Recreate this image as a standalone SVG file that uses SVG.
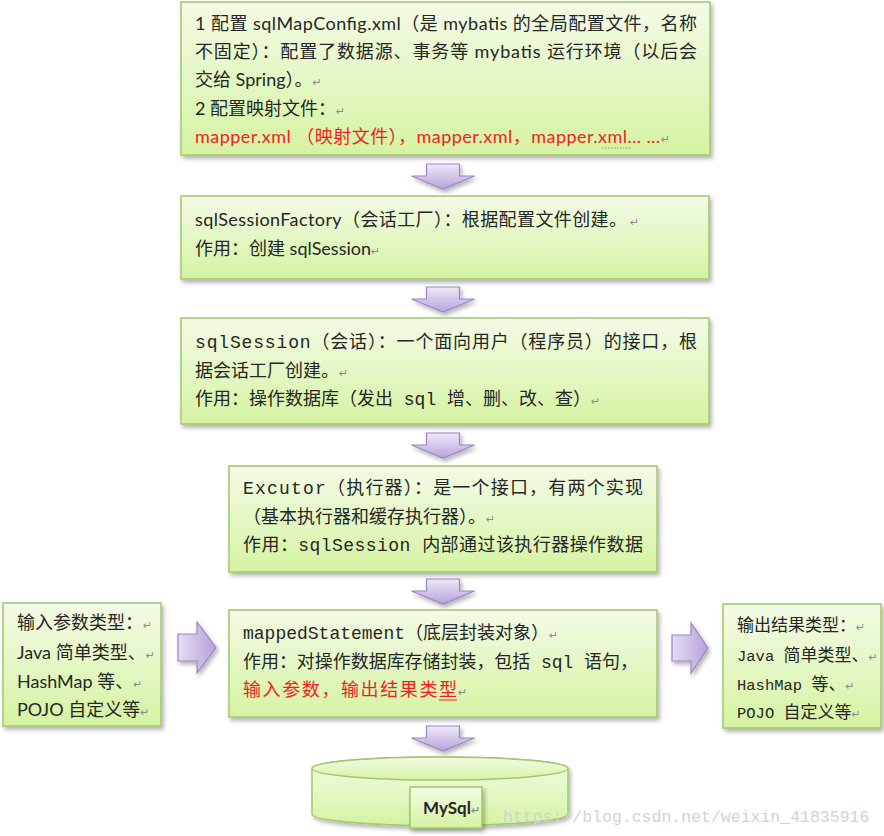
<svg xmlns="http://www.w3.org/2000/svg" width="884" height="836" viewBox="0 0 884 836">
<defs>
  <linearGradient id="gBox" x1="0" y1="0" x2="0" y2="1">
    <stop offset="0" stop-color="#f3fbe6"/>
    <stop offset="1" stop-color="#d5f3a2"/>
  </linearGradient>
  <linearGradient id="gArrowD" x1="0" y1="0" x2="0" y2="1">
    <stop offset="0" stop-color="#efe9f8"/>
    <stop offset="1" stop-color="#b7a3dc"/>
  </linearGradient>
  <linearGradient id="gArrowR" x1="0" y1="0" x2="1" y2="0">
    <stop offset="0" stop-color="#e6ddf4"/>
    <stop offset="1" stop-color="#b5a1da"/>
  </linearGradient>
  <filter id="sh" x="-10%" y="-10%" width="120%" height="130%">
    <feDropShadow dx="2" dy="3" stdDeviation="2" flood-color="#000" flood-opacity="0.3"/>
  </filter>
  <path id="arrowDown" d="M426.5,0 h33 v12 h15 L443,25 L411.5,12 h15 Z"/>
</defs>
<style>
  .box { fill: url(#gBox); stroke: #a3c76b; stroke-width: 1.5; filter: url(#sh); }
  .arr { stroke: #9a86c6; stroke-width: 1.2; filter: url(#sh); }
  .ad { fill: url(#gArrowD); }
  .ar { fill: url(#gArrowR); }
  .t { font-size: 18px; fill: #262626; }
  .t17 { font-size: 17px; fill: #262626; }
  .lat { font-size: 15.5px; }
  .sans { font-family: "Lato", "Noto Sans CJK SC", sans-serif; }
  .mono { font-family: "Liberation Mono", "Noto Sans CJK SC", monospace; }
  .red { fill: #f01e1e; }
  .rm { font-size: 11px; fill: #8c8c8c; font-family: "DejaVu Sans", sans-serif; }
  .wm { font-family: "Liberation Mono", monospace; font-size: 16.5px; fill: #d2d2d2; }
</style>
<rect width="884" height="836" fill="#ffffff"/>

<g id="connectors">
  <use href="#arrowDown" class="arr ad" y="164"/>
  <use href="#arrowDown" class="arr ad" y="287"/>
  <use href="#arrowDown" class="arr ad" y="433"/>
  <use href="#arrowDown" class="arr ad" y="579"/>
  <use href="#arrowDown" class="arr ad" y="726"/>
  <path class="arr ar" d="M178,634 H197 V622 L216,647.5 L197,673 V661 H178 Z"/>
  <path class="arr ar" d="M672,635 H691 V623 L708,648 L691,673 V661 H672 Z"/>
</g>

<g id="config">
  <rect class="box" x="181" y="2" width="529" height="153"/>
  <text class="t sans" x="195" y="30" textLength="502" lengthAdjust="spacing">1 配置 sqlMapConfig.xml（是 mybatis 的全局配置文件，名称</text>
  <text class="t sans" x="195" y="58" textLength="502" lengthAdjust="spacing">不固定）：配置了数据源、事务等 mybatis 运行环境（以后会</text>
  <text class="t sans" x="195" y="86">交给 Spring）。<tspan class="rm">↵</tspan></text>
  <text class="t sans" x="195" y="115">2 配置映射文件：<tspan class="rm">↵</tspan></text>
  <text class="t sans red" x="195" y="143" textLength="465" lengthAdjust="spacing">mapper.xml （映射文件），mapper.xml，mapper.xml… …</text>
  <text class="rm" x="661" y="143">↵</text>
  <line x1="602" y1="148" x2="631" y2="148" stroke="#5cb85c" stroke-width="1" stroke-dasharray="1.5,1.5"/>
</g>

<g id="sqlSessionFactory">
  <rect class="box" x="181" y="196" width="528" height="83"/>
  <text class="t sans" x="195" y="226" textLength="432" lengthAdjust="spacing">sqlSessionFactory（会话工厂）：根据配置文件创建。</text>
  <text class="rm" x="630" y="226">↵</text>
  <text class="t sans" x="195" y="255">作用：创建 sqlSession<tspan class="rm">↵</tspan></text>
</g>

<g id="sqlSession">
  <rect class="box" x="181" y="318" width="528" height="106"/>
  <text class="t mono" x="195" y="348" textLength="502" lengthAdjust="spacing">sqlSession（会话）：一个面向用户（程序员）的接口，根</text>
  <text class="t mono" x="195" y="377">据会话工厂创建。<tspan class="rm">↵</tspan></text>
  <text class="t mono" x="195" y="405">作用：操作数据库（发出 sql 增、删、改、查）<tspan class="rm">↵</tspan></text>
</g>

<g id="executor">
  <rect class="box" x="229" y="466" width="428" height="106"/>
  <text class="t mono" x="243" y="494" textLength="400" lengthAdjust="spacing">Excutor（执行器）：是一个接口，有两个实现</text>
  <text class="t mono" x="243" y="523">（基本执行器和缓存执行器）。<tspan class="rm">↵</tspan></text>
  <text class="t mono" x="243" y="551" textLength="400" lengthAdjust="spacing">作用：sqlSession 内部通过该执行器操作数据</text>
</g>

<g id="mappedStatement">
  <rect class="box" x="229" y="610" width="428" height="107"/>
  <text class="t mono" x="243" y="639">mappedStatement（底层封装对象）<tspan class="rm">↵</tspan></text>
  <text class="t mono" x="243" y="668" textLength="395" lengthAdjust="spacing">作用：对操作数据库存储封装，包括 sql 语句，</text>
  <text class="t mono red" x="243" y="696" textLength="214" lengthAdjust="spacing">输入参数，输出结果类型</text>
  <text class="rm" x="458" y="696">↵</text>
  <line x1="439" y1="700" x2="457" y2="700" stroke="#f01e1e" stroke-width="1"/>
</g>

<g id="inputTypes">
  <rect class="box" x="3" y="603" width="158" height="123"/>
  <text class="t sans" x="17" y="629">输入参数类型：<tspan class="rm">↵</tspan></text>
  <text class="t sans" x="17" y="659">Java 简单类型、<tspan class="rm">↵</tspan></text>
  <text class="t sans" x="17" y="688">HashMap 等、<tspan class="rm">↵</tspan></text>
  <text class="t sans" x="17" y="716">POJO 自定义等<tspan class="rm">↵</tspan></text>
</g>

<g id="outputTypes">
  <rect class="box" x="723" y="604" width="158" height="124"/>
  <text class="t17 mono" x="737" y="631">输出结果类型：<tspan class="rm">↵</tspan></text>
  <text class="t17 mono" x="737" y="661"><tspan class="lat">Java </tspan>简单类型、<tspan class="rm">↵</tspan></text>
  <text class="t17 mono" x="737" y="690"><tspan class="lat">HashMap </tspan>等、<tspan class="rm">↵</tspan></text>
  <text class="t17 mono" x="737" y="718"><tspan class="lat">POJO </tspan>自定义等<tspan class="rm">↵</tspan></text>
</g>

<g id="mysql">
  <path class="box" d="M312,768.5 L312,814 A128,11.5 0 0 0 568,814 L568,768.5 A128,11.5 0 0 0 312,768.5 Z"/>
  <ellipse cx="440" cy="768.5" rx="128" ry="11.5" fill="url(#gBox)" stroke="#a3c76b" stroke-width="1.5"/>
  <rect class="box" x="410" y="787" width="72" height="41"/>
  <text class="sans" x="423" y="814" font-size="17" font-weight="bold" fill="#262626">MySql<tspan class="rm">↵</tspan></text>
</g>

<text class="wm" x="503" y="822">https://blog.csdn.net/weixin_41835916</text>
</svg>
